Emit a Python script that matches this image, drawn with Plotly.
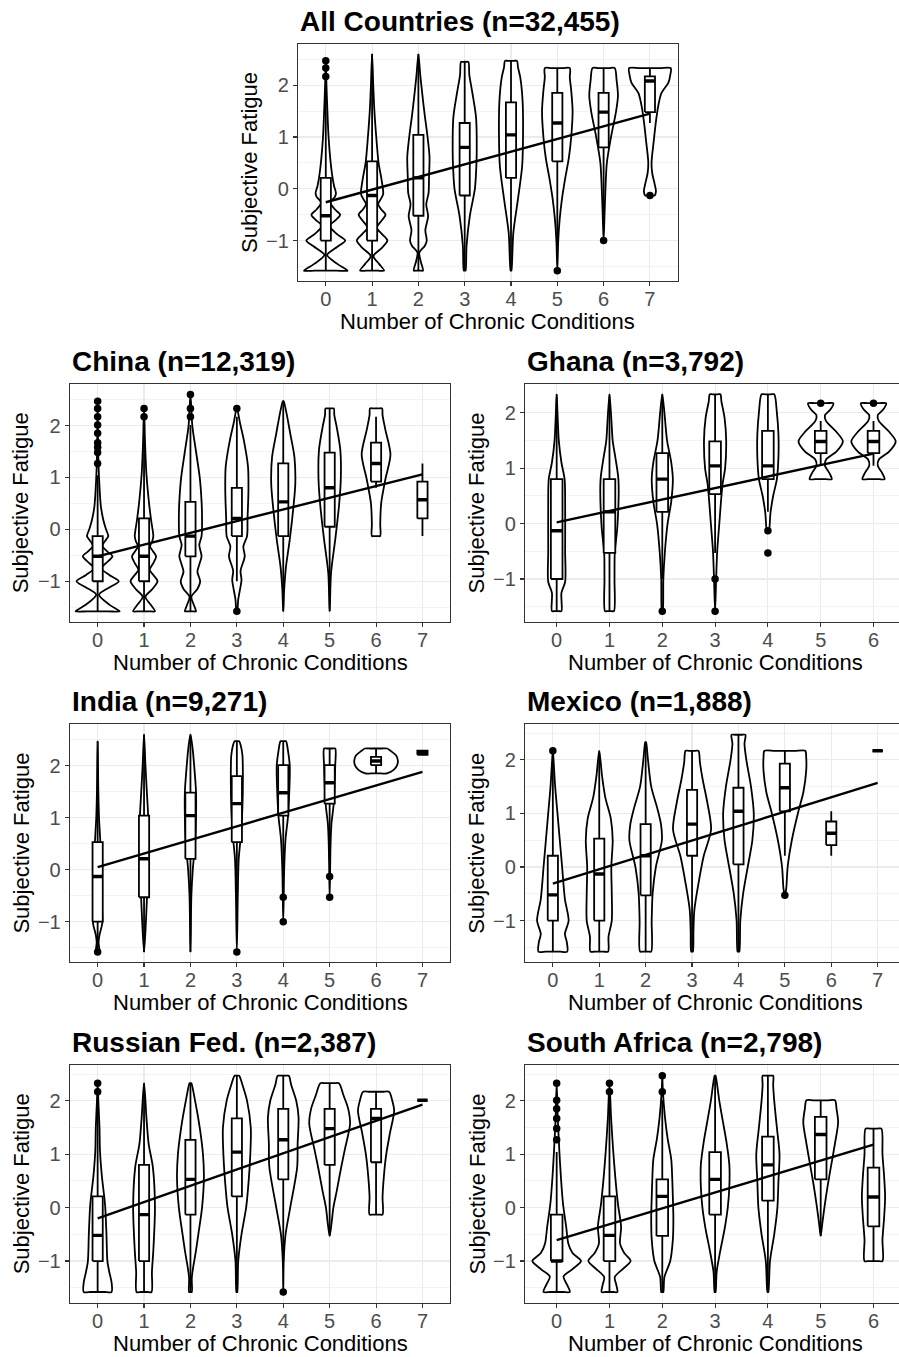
import plotly.graph_objects as go

W, H = 899, 1357
FONT = "Liberation Sans, Arial, Helvetica, sans-serif"

# ---------------- DATA ----------------
Y_TICKS = [-1, 0, 1, 2]
Y_TICK_TEXT = ["\u22121", "0", "1", "2"]
Y_MINOR = [-1.5, -0.5, 0.5, 1.5, 2.5]

# All Countries
ALL_TITLE = "All Countries (n=32,455)"
ALL_CATS = [0, 1, 2, 3, 4, 5, 6, 7]
ALL_Q1 = [-1.0, -1.0, -0.52, -0.13, 0.21, 0.53, 0.8, 1.48]
ALL_MED = [-0.52, -0.13, 0.21, 0.8, 1.04, 1.27, 1.48, 2.08]
ALL_Q3 = [0.21, 0.53, 1.04, 1.27, 1.67, 1.85, 1.85, 2.17]
ALL_LO = [-1.58, -1.58, -1.58, -1.58, -1.58, -1.0, -0.52, 1.27]
ALL_HI = [2.01, 2.6, 2.6, 2.47, 2.47, 2.33, 2.33, 2.33]
ALL_OUT_X = [0, 0, 0, 5, 6, 7]
ALL_OUT_Y = [2.17, 2.33, 2.47, -1.58, -1.0, -0.13]
ALL_FIT_X = [0, 7]
ALL_FIT_Y = [-0.26, 1.45]
ALL_VIOLIN = [
    [(-1.58, 0.47), (-1.45, 0.25), (-1.28, 0.03), (-1.12, 0.25), (-1.0, 0.42), (-0.88, 0.25), (-0.72, 0.08),
     (-0.6, 0.22), (-0.5, 0.31), (-0.4, 0.2), (-0.27, 0.1), (-0.15, 0.2), (-0.08, 0.22), (0.05, 0.18),
     (0.25, 0.14), (0.55, 0.1), (1.0, 0.06), (1.5, 0.035), (2.0, 0.015), (2.47, 0.0)],
    [(-1.58, 0.26), (-1.45, 0.15), (-1.3, 0.03), (-1.15, 0.2), (-1.0, 0.33), (-0.88, 0.22), (-0.75, 0.1),
     (-0.62, 0.2), (-0.5, 0.29), (-0.4, 0.2), (-0.3, 0.13), (-0.18, 0.2), (-0.1, 0.24), (0.2, 0.2),
     (0.5, 0.14), (1.0, 0.09), (1.5, 0.05), (2.0, 0.025), (2.6, 0.0)],
    [(-1.58, 0.1), (-1.4, 0.05), (-1.23, 0.02), (-1.1, 0.14), (-1.0, 0.18), (-0.8, 0.15), (-0.53, 0.21),
     (-0.3, 0.17), (-0.08, 0.22), (0.24, 0.23), (0.62, 0.24), (1.06, 0.19), (1.4, 0.14), (1.7, 0.1),
     (2.2, 0.04), (2.6, 0.0)],
    [(-1.58, 0.02), (-1.1, 0.04), (-0.53, 0.11), (0.0, 0.22), (0.4, 0.25), (0.75, 0.26), (1.38, 0.245),
     (1.83, 0.17), (2.2, 0.1), (2.45, 0.08)],
    [(-1.58, 0.01), (-0.85, 0.05), (-0.2, 0.15), (0.43, 0.24), (1.06, 0.26), (1.7, 0.25), (2.15, 0.2),
     (2.35, 0.15), (2.47, 0.13)],
    [(-1.58, 0.0), (-1.0, 0.02), (-0.6, 0.05), (-0.2, 0.1), (0.2, 0.17), (0.6, 0.25), (1.0, 0.3),
     (1.5, 0.33), (1.9, 0.3), (2.15, 0.27), (2.33, 0.27)],
    [(-1.0, 0.0), (-0.5, 0.02), (0.0, 0.04), (0.5, 0.07), (1.0, 0.16), (1.5, 0.27), (1.8, 0.31),
     (2.1, 0.28), (2.33, 0.24)],
    [(-0.13, 0.1), (-0.05, 0.13), (0.1, 0.1), (0.3, 0.05), (0.5, 0.035), (0.9, 0.08), (1.3, 0.13),
     (1.6, 0.18), (1.85, 0.25), (2.05, 0.4), (2.2, 0.44), (2.33, 0.45)],
]

# China
CHN_TITLE = "China (n=12,319)"
CHN_CATS = [0, 1, 2, 3, 4, 5, 6, 7]
CHN_Q1 = [-1.0, -1.0, -0.52, -0.13, -0.13, 0.05, 0.92, 0.21]
CHN_MED = [-0.52, -0.52, -0.13, 0.21, 0.53, 0.8, 1.27, 0.57]
CHN_Q3 = [-0.13, 0.21, 0.53, 0.8, 1.27, 1.48, 1.67, 0.92]
CHN_LO = [-1.58, -1.58, -1.58, -1.0, -1.58, -1.58, 0.8, -0.13]
CHN_HI = [1.04, 2.01, 2.01, 2.17, 2.47, 2.33, 2.17, 1.27]
CHN_OUT_X = [0, 0, 0, 0, 0, 0, 0, 0, 0, 1, 1, 2, 2, 2, 3, 3]
CHN_OUT_Y = [1.27, 1.48, 1.58, 1.67, 1.85, 2.01, 2.17, 2.33, 2.47, 2.17, 2.33, 2.17, 2.33, 2.6, -1.58, 2.33]
CHN_FIT_X = [0, 7]
CHN_FIT_Y = [-0.52, 1.06]
CHN_VIOLIN = [
    [(-1.58, 0.475), (-1.45, 0.25), (-1.26, 0.03), (-1.12, 0.25), (-1.0, 0.455), (-0.88, 0.25), (-0.75, 0.08),
     (-0.62, 0.22), (-0.52, 0.32), (-0.42, 0.2), (-0.32, 0.1), (-0.2, 0.18), (-0.13, 0.23), (0.0, 0.18),
     (0.19, 0.12), (0.44, 0.07), (1.0, 0.03), (1.5, 0.012), (2.47, 0.0)],
    [(-1.58, 0.235), (-1.45, 0.14), (-1.3, 0.03), (-1.15, 0.18), (-1.0, 0.29), (-0.88, 0.2), (-0.78, 0.12),
     (-0.65, 0.2), (-0.52, 0.26), (-0.42, 0.19), (-0.33, 0.13), (-0.22, 0.18), (-0.13, 0.2), (0.19, 0.15),
     (0.57, 0.1), (1.08, 0.05), (1.72, 0.02), (2.33, 0.0)],
    [(-1.58, 0.12), (-1.45, 0.07), (-1.3, 0.02), (-1.15, 0.15), (-1.0, 0.21), (-0.82, 0.15), (-0.65, 0.2),
     (-0.52, 0.24), (-0.3, 0.19), (-0.13, 0.24), (0.21, 0.25), (0.53, 0.24), (1.0, 0.2), (1.5, 0.12),
     (2.0, 0.04), (2.6, 0.0)],
    [(-1.58, 0.01), (-1.35, 0.03), (-1.1, 0.08), (-0.97, 0.1), (-0.8, 0.08), (-0.52, 0.17), (-0.33, 0.14),
     (-0.13, 0.22), (0.19, 0.23), (0.76, 0.25), (1.21, 0.24), (1.72, 0.15), (2.04, 0.07), (2.33, 0.0)],
    [(-1.58, 0.0), (-1.16, 0.02), (-0.71, 0.06), (-0.2, 0.14), (0.44, 0.22), (0.89, 0.26), (1.4, 0.24),
     (1.85, 0.15), (2.24, 0.07), (2.47, 0.01)],
    [(-1.58, 0.0), (-0.84, 0.03), (-0.2, 0.12), (0.44, 0.2), (0.96, 0.24), (1.53, 0.23), (1.98, 0.15),
     (2.2, 0.1), (2.33, 0.09)],
    [(-0.13, 0.09), (0.1, 0.09), (0.5, 0.11), (0.96, 0.2), (1.44, 0.31), (1.92, 0.2), (2.2, 0.14), (2.33, 0.13)],
    None,
]

# Ghana
GHA_TITLE = "Ghana (n=3,792)"
GHA_CATS = [0, 1, 2, 3, 4, 5, 6]
GHA_Q1 = [-1.0, -0.53, 0.21, 0.53, 0.8, 1.27, 1.27]
GHA_MED = [-0.13, 0.21, 0.8, 1.04, 1.04, 1.48, 1.48]
GHA_Q3 = [0.8, 0.8, 1.27, 1.48, 1.67, 1.67, 1.67]
GHA_LO = [-1.58, -1.58, -1.0, -0.53, 0.21, 1.04, 1.04]
GHA_HI = [2.33, 2.33, 2.33, 2.33, 2.33, 1.85, 1.85]
GHA_OUT_X = [2, 3, 3, 4, 4, 5, 6]
GHA_OUT_Y = [-1.58, -1.0, -1.58, -0.13, -0.53, 2.17, 2.17]
GHA_FIT_X = [0, 6]
GHA_FIT_Y = [0.02, 1.26]
GHA_VIOLIN = [
    [(-1.58, 0.09), (-1.25, 0.09), (-1.05, 0.16), (-0.5, 0.16), (0.5, 0.16), (0.8, 0.15), (1.1, 0.09),
     (1.5, 0.04), (2.0, 0.015), (2.33, 0.0)],
    [(-1.58, 0.085), (-1.0, 0.095), (-0.53, 0.1), (-0.05, 0.15), (0.78, 0.17), (1.14, 0.12), (1.5, 0.06),
     (1.8, 0.04), (2.33, 0.0)],
    [(-1.58, 0.01), (-1.0, 0.02), (-0.5, 0.05), (0.0, 0.1), (0.4, 0.17), (0.8, 0.2), (1.1, 0.17), (1.5, 0.09),
     (2.0, 0.04), (2.33, 0.0)],
    [(-1.58, 0.0), (-1.0, 0.02), (-0.5, 0.04), (0.0, 0.08), (0.7, 0.14), (1.0, 0.19), (1.5, 0.21), (1.9, 0.18),
     (2.2, 0.12), (2.33, 0.1)],
    [(-0.13, 0.02), (0.2, 0.05), (0.5, 0.1), (0.8, 0.17), (1.2, 0.2), (1.6, 0.2), (2.0, 0.17), (2.33, 0.12)],
    [(0.8, 0.21), (0.9, 0.17), (1.05, 0.08), (1.15, 0.1), (1.3, 0.3), (1.48, 0.42), (1.65, 0.3), (1.85, 0.1),
     (1.95, 0.08), (2.05, 0.18), (2.17, 0.24)],
    [(0.8, 0.21), (0.9, 0.17), (1.05, 0.08), (1.15, 0.1), (1.3, 0.3), (1.48, 0.42), (1.65, 0.3), (1.85, 0.1),
     (1.95, 0.08), (2.05, 0.18), (2.17, 0.24)],
]

# India
IND_TITLE = "India (n=9,271)"
IND_CATS = [0, 1, 2, 3, 4, 5, 6, 7]
IND_Q1 = [-1.0, -0.53, 0.21, 0.53, 1.04, 1.27, 2.01, 2.21]
IND_MED = [-0.13, 0.21, 1.04, 1.27, 1.48, 1.67, 2.09, 2.25]
IND_Q3 = [0.53, 1.04, 1.48, 1.8, 2.01, 2.01, 2.17, 2.29]
IND_LO = [-1.58, -1.58, -1.58, -1.0, -0.13, 0.21, 1.85, 2.21]
IND_HI = [2.47, 2.6, 2.6, 2.47, 2.47, 2.33, 2.33, 2.29]
IND_OUT_X = [0, 3, 4, 4, 5, 5]
IND_OUT_Y = [-1.58, -1.58, -0.53, -1.0, -0.13, -0.53]
IND_FIT_X = [0, 7]
IND_FIT_Y = [0.05, 1.88]
IND_VIOLIN = [
    [(-1.58, 0.04), (-1.4, 0.02), (-1.25, 0.04), (-1.03, 0.1), (-0.5, 0.08), (0.0, 0.08), (0.5, 0.06),
     (1.0, 0.03), (1.5, 0.015), (2.47, 0.0)],
    [(-1.58, 0.0), (-1.0, 0.04), (-0.6, 0.06), (0.0, 0.09), (0.5, 0.09), (1.0, 0.09), (1.5, 0.06), (2.0, 0.03),
     (2.6, 0.0)],
    [(-1.58, 0.0), (-0.5, 0.02), (0.0, 0.05), (0.5, 0.1), (1.0, 0.12), (1.5, 0.12), (2.0, 0.08), (2.3, 0.05),
     (2.6, 0.0)],
    [(-1.58, 0.0), (-0.5, 0.02), (0.2, 0.04), (0.6, 0.08), (1.2, 0.12), (1.8, 0.13), (2.2, 0.12), (2.4, 0.08),
     (2.47, 0.05)],
    [(-1.0, 0.0), (-0.5, 0.01), (0.0, 0.02), (0.6, 0.05), (1.0, 0.1), (1.5, 0.13), (2.0, 0.14), (2.3, 0.1),
     (2.47, 0.06)],
    [(-0.53, 0.0), (0.0, 0.01), (0.5, 0.02), (0.9, 0.04), (1.2, 0.08), (1.5, 0.1), (2.0, 0.12), (2.33, 0.12)],
    [(1.85, 0.23), (1.92, 0.38), (2.0, 0.45), (2.1, 0.47), (2.2, 0.43), (2.28, 0.32), (2.33, 0.24)],
    None,
]

# Mexico
MEX_TITLE = "Mexico (n=1,888)"
MEX_CATS = [0, 1, 2, 3, 4, 5, 6, 7]
MEX_Q1 = [-1.0, -1.0, -0.53, 0.21, 0.05, 1.04, 0.41, 2.17]
MEX_MED = [-0.52, -0.13, 0.21, 0.8, 1.04, 1.48, 0.63, 2.17]
MEX_Q3 = [0.21, 0.53, 0.8, 1.44, 1.48, 1.93, 0.85, 2.17]
MEX_LO = [-1.58, -1.58, -1.58, -1.58, -1.58, 0.21, 0.21, 2.17]
MEX_HI = [2.01, 2.17, 2.33, 2.17, 2.47, 2.17, 1.04, 2.17]
MEX_OUT_X = [0, 5]
MEX_OUT_Y = [2.17, -0.53]
MEX_FIT_X = [0, 7]
MEX_FIT_Y = [-0.31, 1.57]
MEX_VIOLIN = [
    [(-1.58, 0.31), (-1.4, 0.3), (-1.25, 0.26), (-1.0, 0.34), (-0.6, 0.26), (0.0, 0.2), (0.5, 0.15),
     (1.0, 0.1), (1.5, 0.05), (2.0, 0.015), (2.17, 0.0)],
    [(-1.58, 0.19), (-1.3, 0.2), (-1.0, 0.27), (-0.5, 0.27), (0.0, 0.26), (0.5, 0.29), (0.9, 0.25),
     (1.3, 0.13), (1.7, 0.06), (2.17, 0.0)],
    [(-1.58, 0.12), (-1.0, 0.13), (-0.5, 0.15), (0.0, 0.22), (0.5, 0.35), (0.8, 0.33), (1.1, 0.25),
     (1.5, 0.12), (2.0, 0.05), (2.33, 0.01)],
    [(-1.58, 0.02), (-1.2, 0.03), (-0.8, 0.05), (-0.3, 0.14), (0.2, 0.25), (0.7, 0.41), (1.2, 0.33),
     (1.63, 0.23), (1.95, 0.17), (2.17, 0.14)],
    [(-1.58, 0.02), (-1.0, 0.04), (-0.5, 0.1), (0.0, 0.2), (0.5, 0.3), (1.0, 0.33), (1.5, 0.27), (2.0, 0.17),
     (2.3, 0.13), (2.47, 0.15)],
    [(-0.53, 0.0), (-0.4, 0.03), (0.0, 0.06), (0.5, 0.15), (1.0, 0.28), (1.4, 0.4), (1.8, 0.46), (2.05, 0.46),
     (2.17, 0.44)],
    None,
    None,
]

# Russian Federation
RUS_TITLE = "Russian Fed. (n=2,387)"
RUS_CATS = [0, 1, 2, 3, 4, 5, 6, 7]
RUS_Q1 = [-1.0, -1.0, -0.13, 0.21, 0.53, 0.8, 0.85, 2.01]
RUS_MED = [-0.52, -0.13, 0.53, 1.04, 1.27, 1.48, 1.67, 2.01]
RUS_Q3 = [0.21, 0.8, 1.27, 1.67, 1.85, 1.85, 1.85, 2.01]
RUS_LO = [-1.58, -1.58, -1.58, -1.58, -1.0, -0.53, -0.13, 2.01]
RUS_HI = [2.01, 2.33, 2.33, 2.47, 2.47, 2.33, 2.17, 2.01]
RUS_OUT_X = [0, 0, 4]
RUS_OUT_Y = [2.17, 2.33, -1.58]
RUS_FIT_X = [0, 7]
RUS_FIT_Y = [-0.2, 1.93]
RUS_VIOLIN = [
    [(-1.58, 0.3), (-1.4, 0.3), (-1.2, 0.25), (-1.0, 0.21), (-0.5, 0.19), (0.05, 0.16), (0.6, 0.09),
     (1.07, 0.05), (1.5, 0.04), (2.0, 0.015), (2.33, 0.0)],
    [(-1.58, 0.16), (-1.2, 0.17), (-0.8, 0.2), (0.0, 0.235), (0.76, 0.19), (1.19, 0.1), (1.7, 0.05),
     (2.0, 0.03), (2.33, 0.0)],
    [(-1.58, 0.03), (-1.3, 0.03), (-0.8, 0.12), (-0.5, 0.17), (0.0, 0.25), (0.57, 0.29), (1.0, 0.27),
     (1.5, 0.2), (2.0, 0.1), (2.33, 0.02)],
    [(-1.58, 0.01), (-1.0, 0.03), (-0.5, 0.1), (0.0, 0.2), (0.45, 0.25), (1.0, 0.29), (1.5, 0.3), (2.0, 0.22),
     (2.3, 0.12), (2.47, 0.05)],
    [(-1.58, 0.0), (-1.0, 0.01), (-0.5, 0.05), (0.0, 0.15), (0.76, 0.3), (1.2, 0.31), (1.69, 0.33), (2.0, 0.28),
     (2.3, 0.17), (2.47, 0.12)],
    [(-0.53, 0.0), (-0.3, 0.04), (0.0, 0.08), (0.3, 0.15), (0.76, 0.25), (1.1, 0.33), (1.57, 0.44),
     (1.85, 0.4), (2.1, 0.3), (2.33, 0.2)],
    [(-0.13, 0.14), (0.2, 0.14), (0.6, 0.17), (1.0, 0.22), (1.4, 0.3), (1.81, 0.39), (2.0, 0.35), (2.17, 0.28)],
    None,
]

# South Africa
ZAF_TITLE = "South Africa (n=2,798)"
ZAF_CATS = [0, 1, 2, 3, 4, 5, 6]
ZAF_Q1 = [-1.0, -1.0, -0.53, -0.13, 0.13, 0.53, -0.35]
ZAF_MED = [-1.0, -0.52, 0.21, 0.53, 0.8, 1.37, 0.2]
ZAF_Q3 = [-0.13, 0.21, 0.53, 1.04, 1.33, 1.7, 0.75]
ZAF_LO = [-1.58, -1.58, -1.58, -1.58, -1.58, -0.53, -1.0]
ZAF_HI = [1.04, 2.01, 2.01, 2.47, 2.47, 2.01, 1.48]
ZAF_OUT_X = [0, 0, 0, 0, 0, 0, 1, 1, 2, 2]
ZAF_OUT_Y = [1.27, 1.48, 1.67, 1.85, 2.01, 2.33, 2.17, 2.33, 2.17, 2.47]
ZAF_FIT_X = [0, 6]
ZAF_FIT_Y = [-0.61, 1.18]
ZAF_VIOLIN = [
    [(-1.58, 0.25), (-1.45, 0.2), (-1.29, 0.13), (-1.15, 0.3), (-1.0, 0.46), (-0.85, 0.3), (-0.67, 0.22),
     (-0.36, 0.18), (0.07, 0.12), (0.57, 0.08), (1.07, 0.05), (1.69, 0.02), (2.33, 0.0)],
    [(-1.58, 0.15), (-1.45, 0.13), (-1.3, 0.1), (-1.15, 0.25), (-1.0, 0.4), (-0.85, 0.28), (-0.67, 0.2),
     (-0.36, 0.22), (0.07, 0.16), (0.57, 0.11), (1.07, 0.07), (1.69, 0.03), (2.33, 0.0)],
    [(-1.58, 0.02), (-1.3, 0.04), (-1.0, 0.15), (-0.6, 0.2), (-0.2, 0.21), (0.2, 0.2), (0.5, 0.19),
     (0.9, 0.17), (1.3, 0.1), (1.7, 0.05), (2.2, 0.01), (2.47, 0.0)],
    [(-1.58, 0.01), (-1.2, 0.03), (-0.8, 0.1), (-0.4, 0.18), (0.0, 0.24), (0.4, 0.27), (0.8, 0.27),
     (1.2, 0.22), (1.6, 0.15), (2.0, 0.08), (2.47, 0.01)],
    [(-1.58, 0.01), (-1.0, 0.04), (-0.5, 0.12), (0.0, 0.18), (0.5, 0.2), (1.0, 0.22), (1.5, 0.17),
     (2.0, 0.12), (2.3, 0.1), (2.47, 0.1)],
    [(-0.53, 0.0), (-0.3, 0.03), (0.0, 0.07), (0.4, 0.13), (0.8, 0.2), (1.2, 0.27), (1.6, 0.33), (1.85, 0.3),
     (2.01, 0.27)],
    [(-1.0, 0.17), (-0.6, 0.17), (-0.2, 0.2), (0.2, 0.22), (0.6, 0.2), (1.0, 0.17), (1.48, 0.15)],
]

X_TITLE = "Number of Chronic Conditions"
Y_TITLE = "Subjective Fatigue"

# ---------------- LAYOUT GEOMETRY (pixels) ----------------
PANELS = [
    dict(title=ALL_TITLE, cats=ALL_CATS, q1=ALL_Q1, med=ALL_MED, q3=ALL_Q3, lo=ALL_LO, hi=ALL_HI,
         ox=ALL_OUT_X, oy=ALL_OUT_Y, fx=ALL_FIT_X, fy=ALL_FIT_Y, vio=ALL_VIOLIN,
         px=(298, 677.7, 44, 281), xr=[-0.6, 7.6], yr=[-1.78, 2.795], clipped=False),
    dict(title=CHN_TITLE, cats=CHN_CATS, q1=CHN_Q1, med=CHN_MED, q3=CHN_Q3, lo=CHN_LO, hi=CHN_HI,
         ox=CHN_OUT_X, oy=CHN_OUT_Y, fx=CHN_FIT_X, fy=CHN_FIT_Y, vio=CHN_VIOLIN,
         px=(69.8, 450.3, 384.3, 621.7), xr=[-0.6, 7.6], yr=[-1.78, 2.795], clipped=False),
    dict(title=GHA_TITLE, cats=GHA_CATS, q1=GHA_Q1, med=GHA_MED, q3=GHA_Q3, lo=GHA_LO, hi=GHA_HI,
         ox=GHA_OUT_X, oy=GHA_OUT_Y, fx=GHA_FIT_X, fy=GHA_FIT_Y, vio=GHA_VIOLIN,
         px=(525, 899, 384.3, 621.7), xr=[-0.6, 6.483], yr=[-1.77, 2.51], clipped=True),
    dict(title=IND_TITLE, cats=IND_CATS, q1=IND_Q1, med=IND_MED, q3=IND_Q3, lo=IND_LO, hi=IND_HI,
         ox=IND_OUT_X, oy=IND_OUT_Y, fx=IND_FIT_X, fy=IND_FIT_Y, vio=IND_VIOLIN,
         px=(69.8, 450.3, 724.3, 962.3), xr=[-0.6, 7.6], yr=[-1.78, 2.795], clipped=False),
    dict(title=MEX_TITLE, cats=MEX_CATS, q1=MEX_Q1, med=MEX_MED, q3=MEX_Q3, lo=MEX_LO, hi=MEX_HI,
         ox=MEX_OUT_X, oy=MEX_OUT_Y, fx=MEX_FIT_X, fy=MEX_FIT_Y, vio=MEX_VIOLIN,
         px=(525, 899, 724.3, 962.3), xr=[-0.6, 7.46], yr=[-1.78, 2.665], clipped=True),
    dict(title=RUS_TITLE, cats=RUS_CATS, q1=RUS_Q1, med=RUS_MED, q3=RUS_Q3, lo=RUS_LO, hi=RUS_HI,
         ox=RUS_OUT_X, oy=RUS_OUT_Y, fx=RUS_FIT_X, fy=RUS_FIT_Y, vio=RUS_VIOLIN,
         px=(69.8, 450.3, 1065.3, 1302.7), xr=[-0.6, 7.6], yr=[-1.78, 2.665], clipped=False),
    dict(title=ZAF_TITLE, cats=ZAF_CATS, q1=ZAF_Q1, med=ZAF_MED, q3=ZAF_Q3, lo=ZAF_LO, hi=ZAF_HI,
         ox=ZAF_OUT_X, oy=ZAF_OUT_Y, fx=ZAF_FIT_X, fy=ZAF_FIT_Y, vio=ZAF_VIOLIN,
         px=(525, 899, 1065.3, 1302.7), xr=[-0.6, 6.483], yr=[-1.78, 2.665], clipped=True),
]

BOX_W = 0.22
LW = 1.8
INK = "black"
GRID = "#EBEBEB"
FRAME = "#333333"
TICKTXT = "#4D4D4D"


def violin_path(c, prof):
    y0, w0 = prof[0]
    yn, wn = prof[-1]
    xs, ys = [], []
    if w0 > 0:
        xs += [c, c + w0 / 2]
        ys += [y0, y0]
    for y, w in prof:
        xs.append(c + w)
        ys.append(y)
    if wn > 0:
        xs += [c + wn / 2, c, c - wn / 2]
        ys += [yn, yn, yn]
    left = list(reversed(prof))
    if wn == 0:
        left = left[1:]
    for y, w in left:
        xs.append(c - w)
        ys.append(y)
    if w0 > 0:
        xs += [c - w0 / 2, c]
        ys += [y0, y0]
    return xs, ys


fig = go.Figure()
layout = dict(
    width=W, height=H, autosize=False,
    margin=dict(l=0, r=0, t=0, b=0),
    paper_bgcolor="white", plot_bgcolor="white",
    showlegend=False,
    font=dict(family=FONT, color="black"),
)
annotations = []

for i, p in enumerate(PANELS, start=1):
    xa = "x" if i == 1 else f"x{i}"
    ya = "y" if i == 1 else f"y{i}"
    l, r, t, b = p["px"]

    for c, prof in zip(p["cats"], p["vio"]):
        if prof is None:
            continue
        vx, vy = violin_path(c, prof)
        fig.add_trace(go.Scatter(
            x=vx, y=vy, xaxis=xa, yaxis=ya, mode="lines", fill="toself",
            fillcolor="white", line=dict(color=INK, width=LW, shape="spline", smoothing=0.8),
            hoverinfo="skip"))

    wx, wy = [], []
    for c, lo, q1, q3, hi in zip(p["cats"], p["lo"], p["q1"], p["q3"], p["hi"]):
        wx += [c, c, None, c, c, None]
        wy += [lo, q1, None, q3, hi, None]
    fig.add_trace(go.Scatter(x=wx, y=wy, xaxis=xa, yaxis=ya, mode="lines",
                             line=dict(color=INK, width=LW), hoverinfo="skip"))

    bx, by = [], []
    for c, q1, q3 in zip(p["cats"], p["q1"], p["q3"]):
        bx += [c - BOX_W / 2, c + BOX_W / 2, c + BOX_W / 2, c - BOX_W / 2, c - BOX_W / 2, None]
        by += [q1, q1, q3, q3, q1, None]
    fig.add_trace(go.Scatter(x=bx, y=by, xaxis=xa, yaxis=ya, mode="lines", fill="toself",
                             fillcolor="white", line=dict(color=INK, width=LW), hoverinfo="skip"))

    mx, my = [], []
    for c, m in zip(p["cats"], p["med"]):
        mx += [c - BOX_W / 2, c + BOX_W / 2, None]
        my += [m, m, None]
    fig.add_trace(go.Scatter(x=mx, y=my, xaxis=xa, yaxis=ya, mode="lines",
                             line=dict(color=INK, width=3.4), hoverinfo="skip"))

    fig.add_trace(go.Scatter(x=p["ox"], y=p["oy"], xaxis=xa, yaxis=ya, mode="markers",
                             marker=dict(color=INK, size=7.5), hoverinfo="skip"))

    fig.add_trace(go.Scatter(x=p["fx"], y=p["fy"], xaxis=xa, yaxis=ya, mode="lines",
                             line=dict(color=INK, width=2.4), hoverinfo="skip"))

    xkey = "xaxis" if i == 1 else f"xaxis{i}"
    ykey = "yaxis" if i == 1 else f"yaxis{i}"
    layout[xkey] = dict(
        domain=[l / W, r / W], range=p["xr"], anchor=ya,
        tickmode="array", tickvals=p["cats"], ticktext=[str(c) for c in p["cats"]],
        showgrid=True, gridcolor=GRID, gridwidth=1.1, zeroline=False,
        showline=True, linecolor=FRAME, linewidth=1.1, mirror=True,
        ticks="outside", ticklen=4, tickwidth=1.1, tickcolor=FRAME,
        ticklabelstandoff=-4,
        tickfont=dict(family=FONT, size=20, color=TICKTXT),
        automargin=False, fixedrange=True,
    )
    layout[ykey] = dict(
        domain=[1 - b / H, 1 - t / H], range=p["yr"], anchor=xa,
        tickmode="array", tickvals=Y_TICKS, ticktext=Y_TICK_TEXT,
        minor=dict(tickmode="array", tickvals=Y_MINOR, showgrid=True, gridcolor=GRID, gridwidth=0.6),
        showgrid=True, gridcolor=GRID, gridwidth=1.1, zeroline=False,
        showline=True, linecolor=FRAME, linewidth=1.1, mirror=not p["clipped"],
        ticks="outside", ticklen=4, tickwidth=1.1, tickcolor=FRAME,
        tickfont=dict(family=FONT, size=20, color=TICKTXT),
        automargin=False, fixedrange=True,
    )

    annotations.append(dict(
        text=f"<b>{p['title']}</b>", xref="paper", yref="paper",
        x=l / W, y=1 - (t - 22.5) / H, xanchor="left", yanchor="middle",
        showarrow=False, font=dict(family=FONT, size=28, color="black")))

    # x-axis title centred on the full (possibly clipped) panel width
    unit = (r - l) / (p["xr"][1] - p["xr"][0])
    full_r = l + unit * (len(p["cats"]) - 1 + 1.2)
    annotations.append(dict(
        text=X_TITLE, xref="paper", yref="paper",
        x=(l + full_r) / 2 / W, y=1 - (b + 40.5) / H, xanchor="center", yanchor="middle",
        showarrow=False, font=dict(family=FONT, size=22, color="black")))
    annotations.append(dict(
        text=Y_TITLE, xref="paper", yref="paper", textangle=-90,
        x=(l - 48.5) / W, y=1 - (t + b) / 2 / H, xanchor="center", yanchor="middle",
        showarrow=False, font=dict(family=FONT, size=22, color="black")))

layout["annotations"] = annotations
fig.update_layout(**layout)
fig.write_html("out.html", config={"displayModeBar": False, "staticPlot": True},
               post_script="document.body.style.margin='0px';document.body.style.overflow='hidden';")
